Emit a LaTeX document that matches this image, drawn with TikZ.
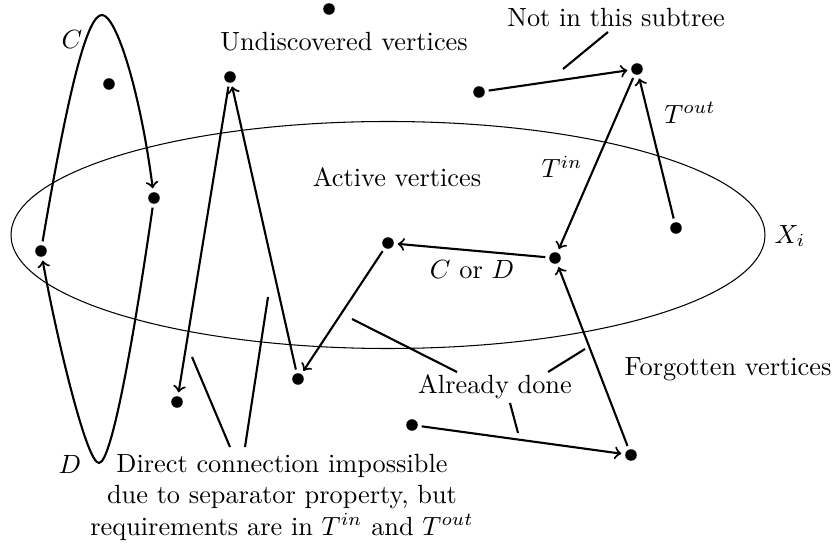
\documentclass[tikz,border=0pt]{standalone}
\begin{document}
\begin{tikzpicture}[x=0.38pt,y=-0.38pt,>=to,
  vtx/.style={circle,fill,inner sep=0pt,outer sep=1.5pt,minimum size=4.4pt},
  edge/.style={thick,->},
  note/.style={thick}]
\useasboundingbox (0,0) rectangle (834,550);
\node[vtx] (u1) at (329,9) {};
\node[vtx] (u2) at (109,84) {};
\node[vtx] (u3) at (230,77) {};
\node[vtx] (u4) at (479,92) {};
\node[vtx] (u5) at (637,69) {};
\node[vtx] (a1) at (154,198) {};
\node[vtx] (a2) at (41,251) {};
\node[vtx] (a3) at (388,243) {};
\node[vtx] (a4) at (555,258) {};
\node[vtx] (a5) at (676,228) {};
\node[vtx] (f1) at (177,402) {};
\node[vtx] (f2) at (298,379) {};
\node[vtx] (f3) at (412,425) {};
\node[vtx] (f4) at (631,455) {};
\draw (388,235) ellipse [x radius=377, y radius=113.5];
\node (undisc) at (344,42) {Undiscovered vertices};
\node (active) at (397,177) {Active vertices};
\node (forgot) at (728,369) {Forgotten vertices};
\node (notin) at (616,18) {Not in this subtree};
\node (done) at (495,387) {Already done};
\node[align=center] (direct) at (282,497) {Direct connection impossible\\due to separator property, but\\requirements are in $T^{in}$ and $T^{out}$};
\node (Xi) at (790,236) {$X_i$};
\node (Clab) at (72,40) {$C$};
\node (Dlab) at (70,465) {$D$};
\node (Tin) at (562,167) {$T^{in}$};
\node (Tout) at (690,113) {$T^{out}$};
\node (CorD) at (472,270) {$C$ or $D$};
\coordinate (Cpeak) at (102,15);
\coordinate (Dlow) at (99,463);
\draw[edge] (a2) .. controls (70,80) and (88,15) .. (Cpeak) .. controls (116,15) and (140,90) .. (a1);
\draw[edge] (a1) .. controls (135,330) and (112,463) .. (Dlow) .. controls (86,463) and (55,330) .. (a2);
\draw[edge] (u3) -- (f1);
\draw[edge] (f2) -- (u3);
\draw[edge] (a3) -- (f2);
\draw[edge] (a4) -- (a3);
\draw[edge] (u5) -- (a4);
\draw[edge] (a5) -- (u5);
\draw[edge] (u4) -- (u5);
\draw[edge] (f4) -- (a4);
\draw[edge] (f3) -- (f4);
\coordinate (notinend) at (563,69);
\coordinate (doneA) at (352,319);
\coordinate (doneB) at (585,349);
\coordinate (doneC) at (518,433);
\coordinate (directA) at (192,357);
\coordinate (directB) at (268,297);
\draw[note] ([shift={(-8,14)}]notin.center) -- (notinend);
\draw[note] ([shift={(-38,-15)}]done.center) -- (doneA);
\draw[note] ([shift={(53,-15)}]done.center) -- (doneB);
\draw[note] ([shift={(15,16)}]done.center) -- (doneC);
\draw[note] ([shift={(-52,-50)}]direct.center) -- (directA);
\draw[note] ([shift={(-37,-50)}]direct.center) -- (directB);
\end{tikzpicture}
\end{document}
